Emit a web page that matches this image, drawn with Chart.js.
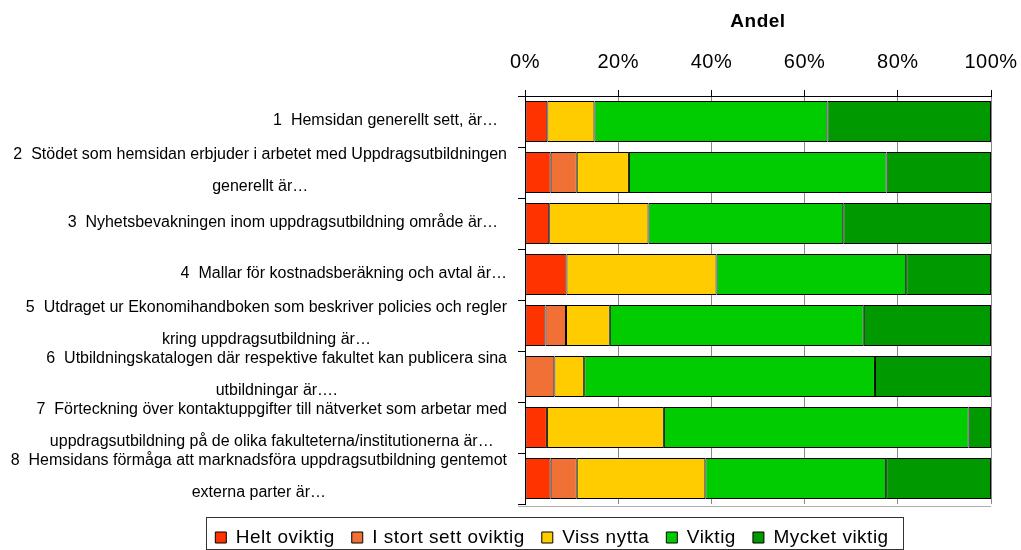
<!DOCTYPE html>
<html>
<head>
<meta charset="utf-8">
<script src="https://cdn.jsdelivr.net/npm/chart.js@4/dist/chart.umd.min.js"></script>
<style>
html,body{margin:0;padding:0;background:#fff;}
#c{display:block;}
</style>
</head>
<body>
<canvas id="c" width="1021" height="550"></canvas>
<script>
// ---- data ----
const categories = [
  ["1  Hemsidan generellt sett, är…  "],
  ["2  Stödet som hemsidan erbjuder i arbetet med Uppdragsutbildningen", "generellt är…"],
  ["3  Nyhetsbevakningen inom uppdragsutbildning område är…  "],
  ["4  Mallar för kostnadsberäkning och avtal är…"],
  ["5  Utdraget ur Ekonomihandboken som beskriver policies och regler", "kring uppdragsutbildning är…"],
  ["6  Utbildningskatalogen där respektive fakultet kan publicera sina", "utbildningar är…."],
  ["7  Förteckning över kontaktuppgifter till nätverket som arbetar med", "uppdragsutbildning på de olika fakulteterna/institutionerna är…"],
  ["8  Hemsidans förmåga att marknadsföra uppdragsutbildning gentemot", "externa parter är…"]
];
const seriesNames = ["Helt oviktig", "I stort sett oviktig", "Viss nytta", "Viktig", "Mycket viktig"];
const heltOviktig      = [4.8, 5.5, 5.2, 8.9, 4.4, 0.0, 4.7, 5.5];
const iStortSettOviktig= [0.0, 5.6, 0.0, 0.0, 4.4, 6.3, 0.0, 5.6];
const vissNytta        = [10.1, 11.2, 21.3, 32.2, 9.4, 6.4, 25.1, 27.6];
const viktig           = [50.0, 55.3, 41.8, 40.7, 54.5, 62.4, 65.4, 38.8];
const mycketViktig     = [35.1, 22.4, 31.7, 18.2, 27.3, 24.9, 4.8, 22.5];
const tickLabels = ["0%", "20%", "40%", "60%", "80%", "100%"];
const axisTitle = "Andel";

const colors = ["#FF3300", "#F07035", "#FFCC00", "#00CC00", "#009900"];
const seriesValues = [heltOviktig, iStortSettOviktig, vissNytta, viktig, mycketViktig];

const FONT = '"Liberation Sans", Arial, sans-serif';

const spacingPlugin = {
  id: 'spacing',
  beforeLayout(chart) { chart.ctx.letterSpacing = '0.5px'; },
  beforeDraw(chart) { chart.ctx.letterSpacing = '0.5px'; }
};

const legendShift = {
  id: 'legendShift',
  afterLayout(chart) {
    const lg = chart.legend;
    if (lg) { lg.top += 7; lg.bottom += 7; }
  }
};

const decor = {
  id: 'decor',
  afterDraw(chart) {
    const ctx = chart.ctx;
    const ca = chart.chartArea;
    const y = chart.scales.y;
    ctx.save();
    ctx.letterSpacing = '0px';
    // bottom plot border
    ctx.strokeStyle = '#b0b0b0';
    ctx.lineWidth = 1;
    ctx.beginPath();
    ctx.moveTo(ca.left - 7, Math.round(ca.bottom) + 2.5);
    ctx.lineTo(ca.right, Math.round(ca.bottom) + 2.5);
    ctx.stroke();
    // category labels
    ctx.font = '16px ' + FONT;
    ctx.fillStyle = '#000';
    ctx.textAlign = 'center';
    ctx.textBaseline = 'middle';
    const rightEdge = ca.left - 18;
    categories.forEach((lines, i) => {
      const cy = y.getPixelForValue(i);
      const maxW = Math.max(...lines.map(l => ctx.measureText(l).width));
      const cx = rightEdge - maxW / 2;
      if (lines.length === 1) {
        ctx.fillText(lines[0], cx, cy - 1);
      } else {
        ctx.fillText(lines[0], cx, cy - 18);
        ctx.fillText(lines[1], cx, cy + 14);
      }
    });
    // legend frame
    const lg = chart.legend;
    if (lg && lg.legendHitBoxes && lg.legendHitBoxes.length) {
      const hb = lg.legendHitBoxes;
      const l = Math.min(...hb.map(h => h.left)) - 9;
      const r = Math.max(...hb.map(h => h.left + h.width)) + 15;
      const t = hb[0].top - 11;
      ctx.strokeStyle = '#333';
      ctx.lineWidth = 1;
      ctx.strokeRect(Math.round(l) + 0.5, Math.round(t) + 0.5, Math.round(r - l), chart.height - 1 - Math.round(t));
    }
    ctx.restore();
  }
};

new Chart(document.getElementById('c'), {
  type: 'bar',
  data: {
    labels: categories,
    datasets: seriesNames.map((name, k) => ({
      label: name,
      data: seriesValues[k],
      backgroundColor: colors[k],
      borderColor: '#000',
      borderWidth: 1,
      borderSkipped: false,
      barPercentage: 0.8,
      categoryPercentage: 1.0
    }))
  },
  options: {
    indexAxis: 'y',
    responsive: false,
    animation: false,
    layout: { padding: { left: 113, right: 30, top: 0, bottom: 0 } },
    plugins: {
      tooltip: { enabled: false },
      legend: {
        position: 'bottom',
        labels: {
          boxWidth: 11,
          boxHeight: 11,
          padding: 17,
          color: '#000',
          font: { family: FONT, size: 19 }
        }
      }
    },
    scales: {
      x: {
        position: 'top',
        stacked: true,
        min: 0,
        max: 100,
        ticks: {
          stepSize: 20,
          color: '#000',
          padding: 16,
          font: { family: FONT, size: 20 },
          callback: (v, i) => tickLabels[i]
        },
        grid: {
          color: '#888',
          tickColor: '#000',
          tickLength: 6,
          lineWidth: 1
        },
        border: { color: '#000', width: 1 },
        title: {
          display: true,
          text: axisTitle,
          color: '#000',
          font: { family: FONT, size: 19, weight: 'bold' },
          padding: { top: 10, bottom: 14 }
        },
        afterFit: s => { s.height = 96; s.paddingLeft = 0; s.paddingRight = 0; }
      },
      y: {
        stacked: true,
        ticks: { display: false },
        grid: {
          drawOnChartArea: false,
          tickColor: '#000',
          tickLength: 7,
          offset: true
        },
        border: { color: '#000', width: 1 },
        afterFit: s => { s.width = 412; }
      }
    }
  },
  plugins: [spacingPlugin, legendShift, decor]
});
</script>
</body>
</html>
